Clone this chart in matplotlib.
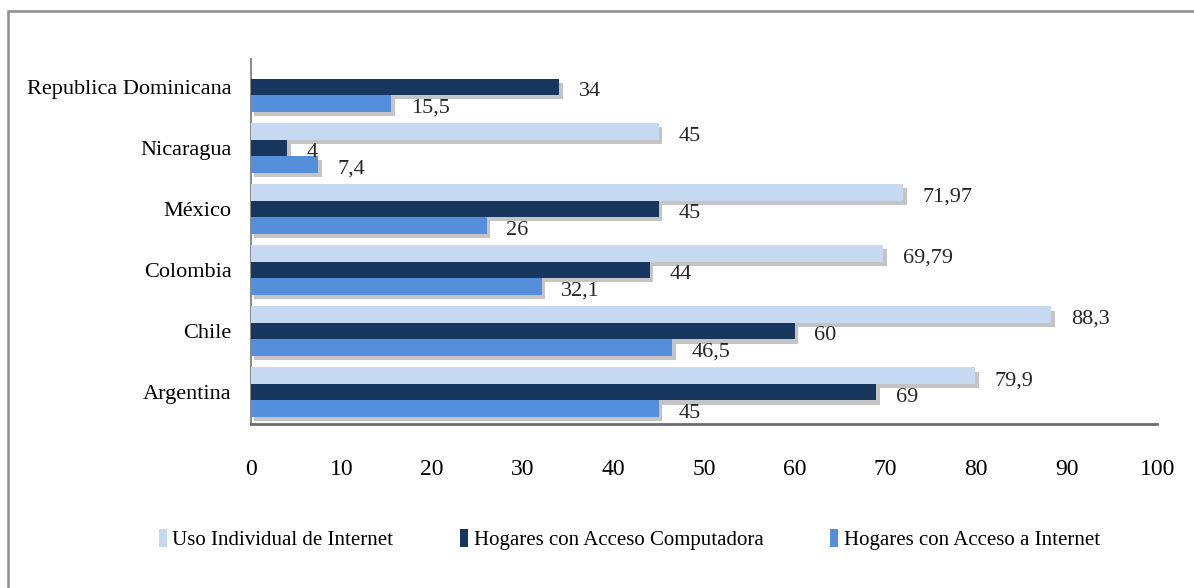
import matplotlib
matplotlib.use("Agg")
import matplotlib.pyplot as plt
import matplotlib.patheffects as pe
import numpy as np
from matplotlib.patches import Rectangle, Patch

categories = ["Argentina", "Chile", "Colombia", "México", "Nicaragua", "Republica Dominicana"]
uso_individual = [79.9, 88.3, 69.79, 71.97, 45, None]
hogares_comp = [69, 60, 44, 45, 4, 34]
hogares_internet = [45, 46.5, 32.1, 26, 7.4, 15.5]
series_names = ["Uso Individual de Internet", "Hogares con Acceso Computadora", "Hogares con Acceso a Internet"]
colors = ["#C6D9F1", "#17375E", "#558EDA"]
xticks = [0, 10, 20, 30, 40, 50, 60, 70, 80, 90, 100]

def fmt(v):
    return ("%g" % v).replace(".", ",")

plt.rcParams['font.family'] = ['Liberation Serif']

fig = plt.figure(figsize=(11.94, 5.88), dpi=100)
ax = fig.add_axes([0.2102, 0.279, 0.759, 0.620])

# outer frame
fig.patches.append(Rectangle((8/1194, -0.1), 1.2, 1 - 11/588 + 0.1, transform=fig.transFigure,
                             fill=False, edgecolor="#8c8c8c", linewidth=1.8, zorder=0))

y = np.arange(len(categories))
h = 0.27
offsets = [h, 0, -h]
all_series = [uso_individual, hogares_comp, hogares_internet]
shadow = [pe.SimplePatchShadow(offset=(2.5, -3), shadow_rgbFace="#8a8a8a", alpha=0.5), pe.Normal()]
for si, (vals, col, off, name) in enumerate(zip(all_series, colors, offsets, series_names)):
    ys = [yy + off for yy, v in zip(y, vals) if v is not None]
    vs = [v for v in vals if v is not None]
    bars = ax.barh(ys, vs, height=h, color=col, zorder=3)
    for b in bars:
        b.set_path_effects(shadow)
    for yy, v in zip(ys, vs):
        ax.annotate(fmt(v), (v, yy), xytext=(14, -3.5), textcoords="offset points",
                    ha="left", va="center", fontsize=16, color="#262626", zorder=5)

ax.set_xlim(0, 100)
ax.set_ylim(-0.52, 5.45)
ax.set_xticks(xticks)
ax.set_xticklabels([str(t) for t in xticks], fontsize=17)
ax.set_yticks(y)
ax.set_yticklabels(categories, fontsize=16)
ax.tick_params(axis="both", length=0, colors="black")
ax.tick_params(axis="x", pad=25)
ax.tick_params(axis="y", pad=14)
for s in ["top", "right"]:
    ax.spines[s].set_visible(False)
ax.spines["left"].set_color("#8c8c8c")
ax.spines["left"].set_linewidth(1.5)
ax.spines["bottom"].set_color("#6b6b6b")
ax.spines["bottom"].set_linewidth(2)

handles = [Patch(facecolor=c, label=n) for c, n in zip(colors, series_names)]
fig.legend(handles=handles, loc="center", bbox_to_anchor=(0.527, 0.082), ncol=3, frameon=False,
           fontsize=15, handlelength=0.4, handleheight=0.9, handletextpad=0.25,
           columnspacing=3.2)

fig.savefig("out.png", dpi=100)
